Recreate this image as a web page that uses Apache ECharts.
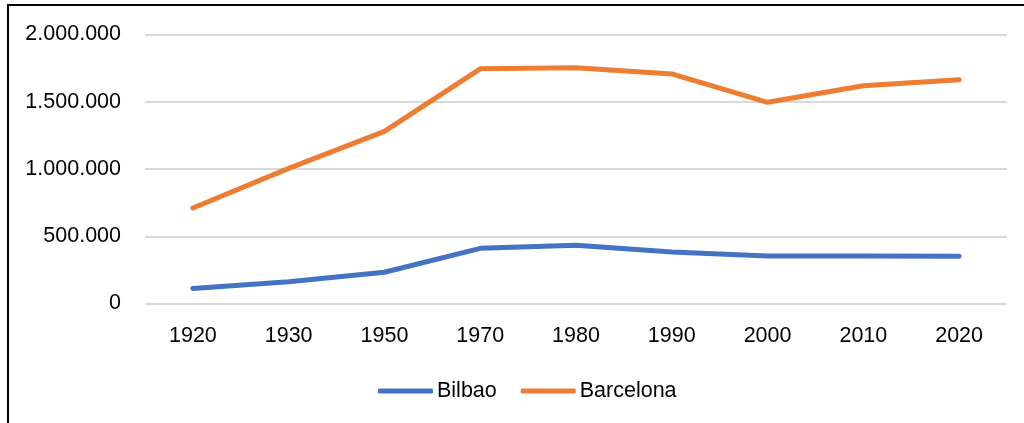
<!DOCTYPE html>
<html>
<head>
<meta charset="utf-8">
<style>
	html,body{margin:0;padding:0;background:#fff;overflow:hidden}
	#frame{position:absolute;left:7px;top:4px;width:1040px;height:440px;border:2px solid #000;box-sizing:border-box}
	#chart{position:absolute;left:0;top:0;width:1024px;height:423px}
</style>
</head>
<body>
	<div id="frame"></div>
	<div id="chart"></div>
	<script src="https://cdn.jsdelivr.net/npm/echarts@6/dist/echarts.min.js"></script>
	<script>
		var years = ['1920', '1930', '1950', '1970', '1980', '1990', '2000', '2010', '2020'];
		var bilbao = [112000, 162000, 232000, 410000, 433000, 383000, 354000, 354000, 352000];
		var barcelona = [710000, 1005000, 1280000, 1745000, 1752000, 1707000, 1496000, 1619000, 1664000];
		var yTicks = [0, 500000, 1000000, 1500000, 2000000];

		function fmt(v) {
			return String(v).replace(/\B(?=(\d{3})+(?!\d))/g, '.');
		}

		var font = '"Liberation Sans", Arial, sans-serif';
		var myChart = echarts.init(document.getElementById('chart'));
		var option = {
			animation: false,
			textStyle: {fontFamily: font},
			grid: {left: 145, right: 17, top: 34.5, bottom: 119.5},
			legend: {
				left: 373,
				top: 375,
				itemWidth: 55,
				itemHeight: 5,
				itemGap: 24,
				icon: 'roundRect',
				textStyle: {fontSize: 21.5, color: '#000', fontFamily: font, padding: [0, 0, 0, -1]},
				data: ['Bilbao', 'Barcelona']
			},
			xAxis: {
				type: 'category',
				data: years,
				axisLine: {show: false},
				axisTick: {show: false},
				axisLabel: {fontSize: 21.5, color: '#000', margin: 22, fontFamily: font}
			},
			yAxis: {
				type: 'value',
				min: yTicks[0],
				max: yTicks[yTicks.length - 1],
				interval: 500000,
				axisLine: {show: false},
				axisTick: {show: false},
				splitLine: {lineStyle: {color: '#d9d9d9', width: 2}},
				axisLabel: {fontSize: 21.5, color: '#000', margin: 24, fontFamily: font, formatter: fmt}
			},
			series: [
				{
					name: 'Bilbao',
					type: 'line',
					data: bilbao,
					symbol: 'none',
					color: '#4472c4',
					lineStyle: {width: 5, color: '#4472c4', cap: 'round', join: 'round'}
				},
				{
					name: 'Barcelona',
					type: 'line',
					data: barcelona,
					symbol: 'none',
					color: '#ed7d31',
					lineStyle: {width: 5, color: '#ed7d31', cap: 'round', join: 'round'}
				}
			]
		};
		myChart.setOption(option);
	</script>
</body>
</html>
